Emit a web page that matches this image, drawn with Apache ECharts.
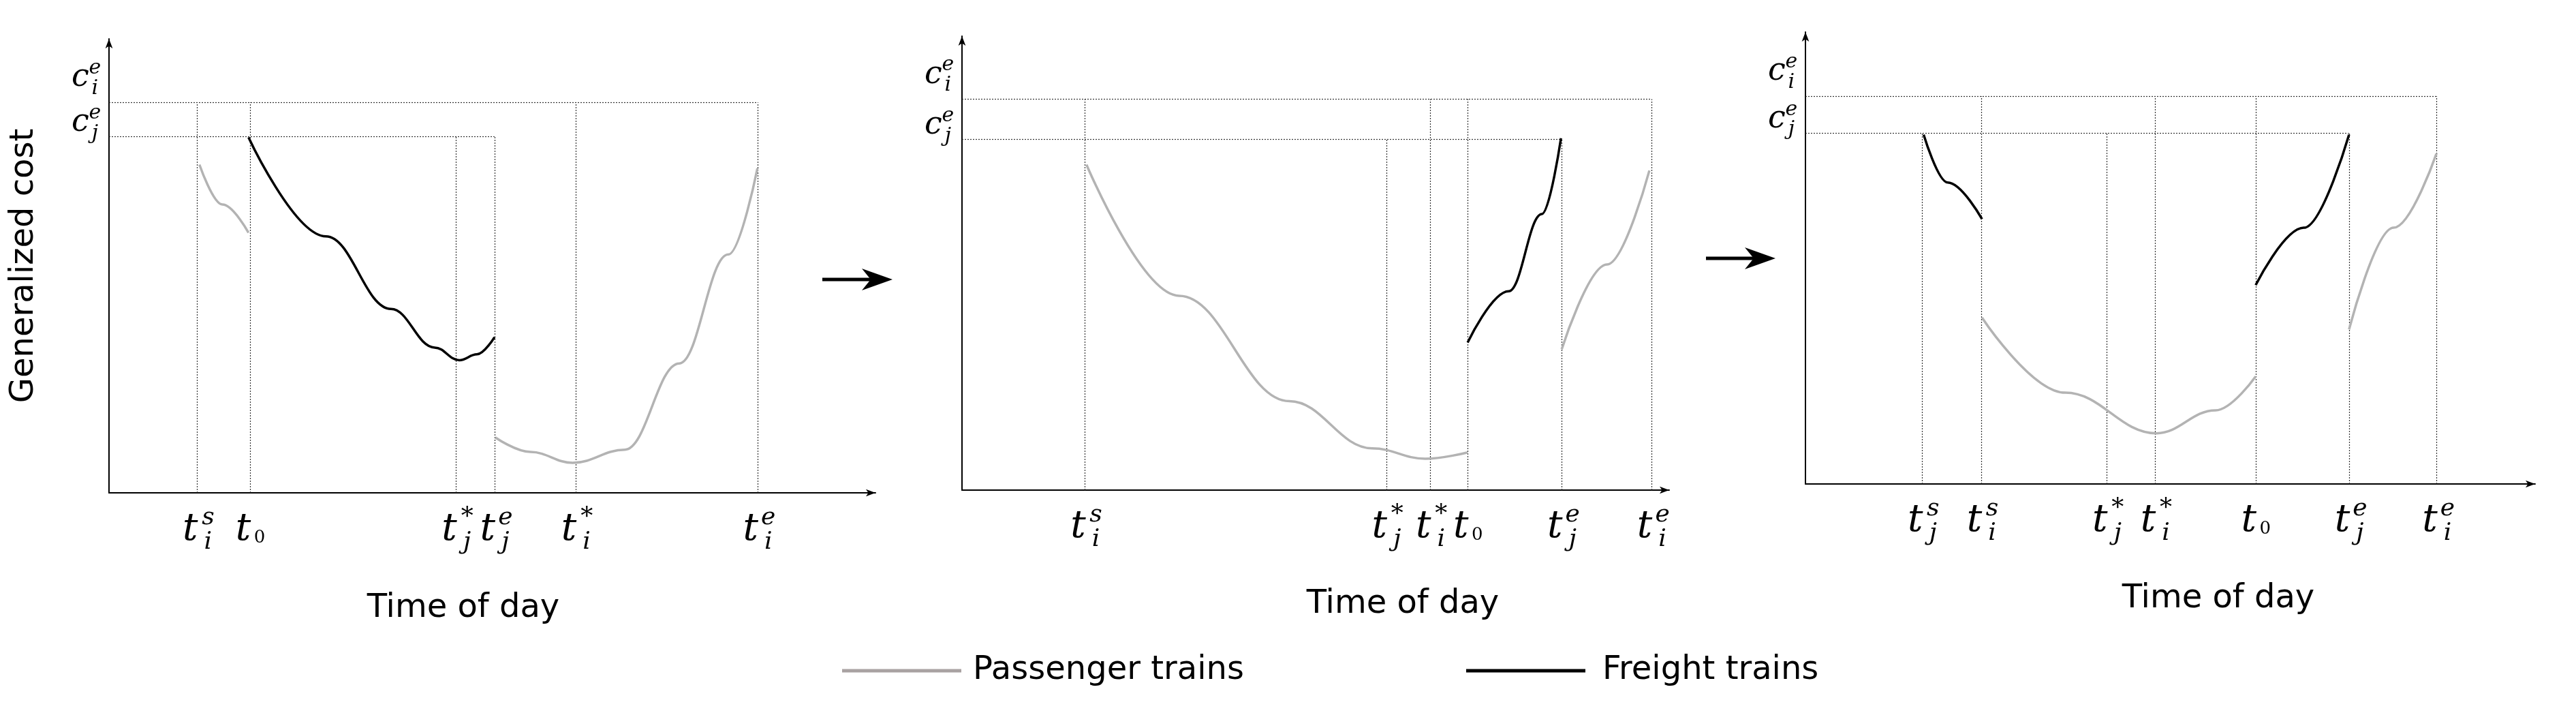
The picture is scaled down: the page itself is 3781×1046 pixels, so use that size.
<!DOCTYPE html>
<html>
<head>
<meta charset="utf-8">
<script src="https://cdn.jsdelivr.net/npm/echarts@6/dist/echarts.min.js"></script>
<style>html,body{margin:0;background:#fff}#main{width:3781px;height:1046px}</style>
</head>
<body>
<div id="main"></div>
<script>
// cost levels c_i^e, c_j^e per panel
var costLevels = [[86.0, 78.5], [86.1, 77.3], [85.8, 77.7]];
// tick positions on the time axis, per panel
var tickLabels = [
  ['t_i^s', 't_0', 't_j^*', 't_j^e', 't_i^*', 't_i^e'],
  ['t_i^s', 't_j^*', 't_i^*', 't_0', 't_j^e', 't_i^e'],
  ['t_j^s', 't_i^s', 't_j^*', 't_i^*', 't_0', 't_j^e', 't_i^e']
];
var tickX = [
  [11.5, 18.4, 45.3, 50.3, 60.9, 84.6],
  [17.4, 60.0, 66.2, 71.5, 84.8, 97.5],
  [16.0, 24.1, 41.3, 47.9, 61.7, 74.5, 86.5]
];
// curves
var passenger = [
  [[[11.8, 72.3], [14.8, 63.5], [18.2, 57.3]],
   [[50.4, 12.2], [55, 9.0], [60.5, 6.6], [67.3, 9.5], [74.4, 28.5], [80.8, 52.5], [84.6, 71.5]]],
  [[[17.6, 71.7], [30.7, 42.8], [46.3, 19.6], [58.0, 9.2], [65.5, 6.9], [71.5, 8.3]],
   [[84.8, 31.0], [91.2, 49.7], [97.2, 70.4]]],
  [[[24.2, 36.8], [35.6, 20.2], [48.1, 11.2], [56.2, 16.3], [61.7, 23.8]],
   [[74.5, 34.2], [80.6, 56.7], [86.5, 73.2]]]
];
var freight = [
  [[[18.2, 78.3], [28.3, 56.5], [36.8, 40.5], [42.5, 32.0], [45.7, 29.2], [48, 30.5], [50.3, 34.3]]],
  [[[71.5, 32.5], [77.3, 43.8], [82.0, 60.8], [84.7, 77.5]]],
  [[[16.2, 77.3], [19.5, 66.7], [24.2, 58.6]],
   [[61.7, 44.0], [68.3, 56.7], [74.5, 77.3]]]
];

var grids = [
  {left: 160, width: 1125, top: 57, bottom: 323},
  {left: 1412, width: 1038, top: 53, bottom: 327},
  {left: 2650, width: 1071, top: 47, bottom: 336}
];
var GREY = '#b3b3b3', LEG_GREY = '#a9a2a2';
var mathFont = '"DejaVu Serif", "Liberation Serif", serif';

function parseLabel(s) {
  var m = s.match(/^(\w)_(\w)(?:\^(.))?$/);
  return {base: m[1], sub: m[2], sup: m[3] || ''};
}

function mathGroup(cx, cy, lab, size) {
  var sc = size / 56;
  var ch = [{type: 'text', x: cx, y: cy, style: {text: lab.base, font: 'italic ' + size + 'px ' + mathFont, fill: '#000', align: 'center', verticalAlign: 'middle'}}];
  if (lab.sub === '0') {
    ch.push({type: 'text', x: cx + 24 * sc, y: cy + 12 * sc, style: {text: '0', font: Math.round(26 * sc) + 'px ' + mathFont, fill: '#000', align: 'center', verticalAlign: 'middle'}});
  } else {
    ch.push({type: 'text', x: cx + 26 * sc, y: cy + 19 * sc, style: {text: lab.sub, font: 'italic ' + Math.round(36 * sc) + 'px ' + mathFont, fill: '#000', align: 'center', verticalAlign: 'middle'}});
  }
  if (lab.sup) {
    ch.push({type: 'text', x: cx + 26 * sc, y: cy - 17 * sc, style: {text: lab.sup, font: (lab.sup === '*' ? '' : 'italic ') + Math.round(36 * sc) + 'px ' + mathFont, fill: '#000', align: 'center', verticalAlign: 'middle'}});
  }
  return {type: 'group', children: ch};
}

var xAxes = [], yAxes = [], series = [];
grids.forEach(function (g, p) {
  xAxes.push({type: 'value', gridIndex: p, min: 0, max: 100, axisTick: {show: false}, axisLabel: {show: false}, splitLine: {show: false},
    axisLine: {lineStyle: {color: '#000', width: 2}, symbol: ['none', 'arrow'], symbolSize: [8, 14]}});
  yAxes.push({type: 'value', gridIndex: p, min: 0, max: 100, axisTick: {show: false}, axisLabel: {show: false}, splitLine: {show: false},
    axisLine: {lineStyle: {color: '#000', width: 2}, symbol: ['none', 'arrow'], symbolSize: [8, 14]},
    name: p === 0 ? 'Generalized cost' : '', nameLocation: 'middle', nameGap: 100, nameRotate: 90,
    nameTextStyle: {fontFamily: 'DejaVu Sans', fontSize: 48, color: '#000'}});

  // guide lines
  var ci = costLevels[p][0], cj = costLevels[p][1];
  var maxI = 0, maxJ = 0, guides = [];
  tickLabels[p].forEach(function (l, k) {
    var isJ = parseLabel(l).sub === 'j';
    var top = isJ ? cj : ci;
    if (isJ) maxJ = Math.max(maxJ, tickX[p][k]); else maxI = Math.max(maxI, tickX[p][k]);
    guides.push({coords: [[tickX[p][k], 0], [tickX[p][k], top]]});
  });
  guides.push({coords: [[0, ci], [maxI, ci]]});
  guides.push({coords: [[0, cj], [maxJ, cj]]});
  series.push({type: 'lines', coordinateSystem: 'cartesian2d', xAxisIndex: p, yAxisIndex: p, silent: true,
    lineStyle: {color: '#333', width: 1.2, type: [2, 2], opacity: 1}, data: guides});

  passenger[p].forEach(function (seg) {
    series.push({name: 'Passenger trains', type: 'line', xAxisIndex: p, yAxisIndex: p, data: seg, smooth: 0.4, smoothMonotone: 'x', showSymbol: false,
      lineStyle: {color: GREY, width: 3.5}, itemStyle: {color: LEG_GREY}});
  });
  freight[p].forEach(function (seg) {
    series.push({name: 'Freight trains', type: 'line', xAxisIndex: p, yAxisIndex: p, data: seg, smooth: 0.4, smoothMonotone: 'x', showSymbol: false,
      lineStyle: {color: '#000', width: 3.5}, itemStyle: {color: '#000'}});
  });

  // time tick labels
  series.push({type: 'custom', xAxisIndex: p, yAxisIndex: p, silent: true, clip: false,
    data: tickX[p].map(function (x, k) { return [x, k]; }),
    renderItem: function (params, api) {
      var pt = api.coord([api.value(0), 0]);
      return mathGroup(pt[0] - 10, pt[1] + 54, parseLabel(tickLabels[p][api.value(1)]), 56);
    }});
  // cost labels
  series.push({type: 'custom', xAxisIndex: p, yAxisIndex: p, silent: true, clip: false,
    data: [[0, ci, 0], [0, cj, 1]],
    renderItem: function (params, api) {
      var pt = api.coord([0, api.value(1)]);
      var first = api.value(2) === 0;
      var lab = {base: 'c', sup: 'e', sub: first ? 'i' : 'j'};
      return mathGroup(pt[0] - 42, pt[1] - (first ? 36 : 20), lab, 46);
    }});
});

function arrow(x1, x2, y) {
  return {type: 'group', children: [
    {type: 'line', shape: {x1: x1, y1: y, x2: x2 - 30, y2: y}, style: {stroke: '#000', lineWidth: 5}},
    {type: 'polygon', shape: {points: [[x2, y], [x2 - 45, y - 16], [x2 - 32, y], [x2 - 45, y + 16]]}, style: {fill: '#000'}}
  ]};
}
var axisTitle = {fontFamily: 'DejaVu Sans', fontSize: 48, fill: '#000', align: 'center', verticalAlign: 'middle'};

var chart = echarts.init(document.getElementById('main'));
chart.setOption({
  backgroundColor: '#fff',
  animation: false,
  grid: grids,
  xAxis: xAxes,
  yAxis: yAxes,
  legend: [
    {data: ['Passenger trains'], left: 1231, top: 955, icon: 'rect', itemWidth: 175, itemHeight: 5,
      textStyle: {fontFamily: 'DejaVu Sans', fontSize: 48, color: '#000', padding: [0, 0, 0, 12]}, selectedMode: false},
    {data: ['Freight trains'], left: 2147, top: 955, icon: 'rect', itemWidth: 175, itemHeight: 5,
      textStyle: {fontFamily: 'DejaVu Sans', fontSize: 48, color: '#000', padding: [0, 0, 0, 20]}, selectedMode: false}
  ],
  graphic: [
    arrow(1207, 1310, 410),
    arrow(2504, 2606, 379),
    {type: 'text', x: 680, y: 893, style: Object.assign({text: 'Time of day'}, axisTitle)},
    {type: 'text', x: 2059, y: 887, style: Object.assign({text: 'Time of day'}, axisTitle)},
    {type: 'text', x: 3256, y: 879, style: Object.assign({text: 'Time of day'}, axisTitle)}
  ],
  series: series
});
</script>
</body>
</html>
